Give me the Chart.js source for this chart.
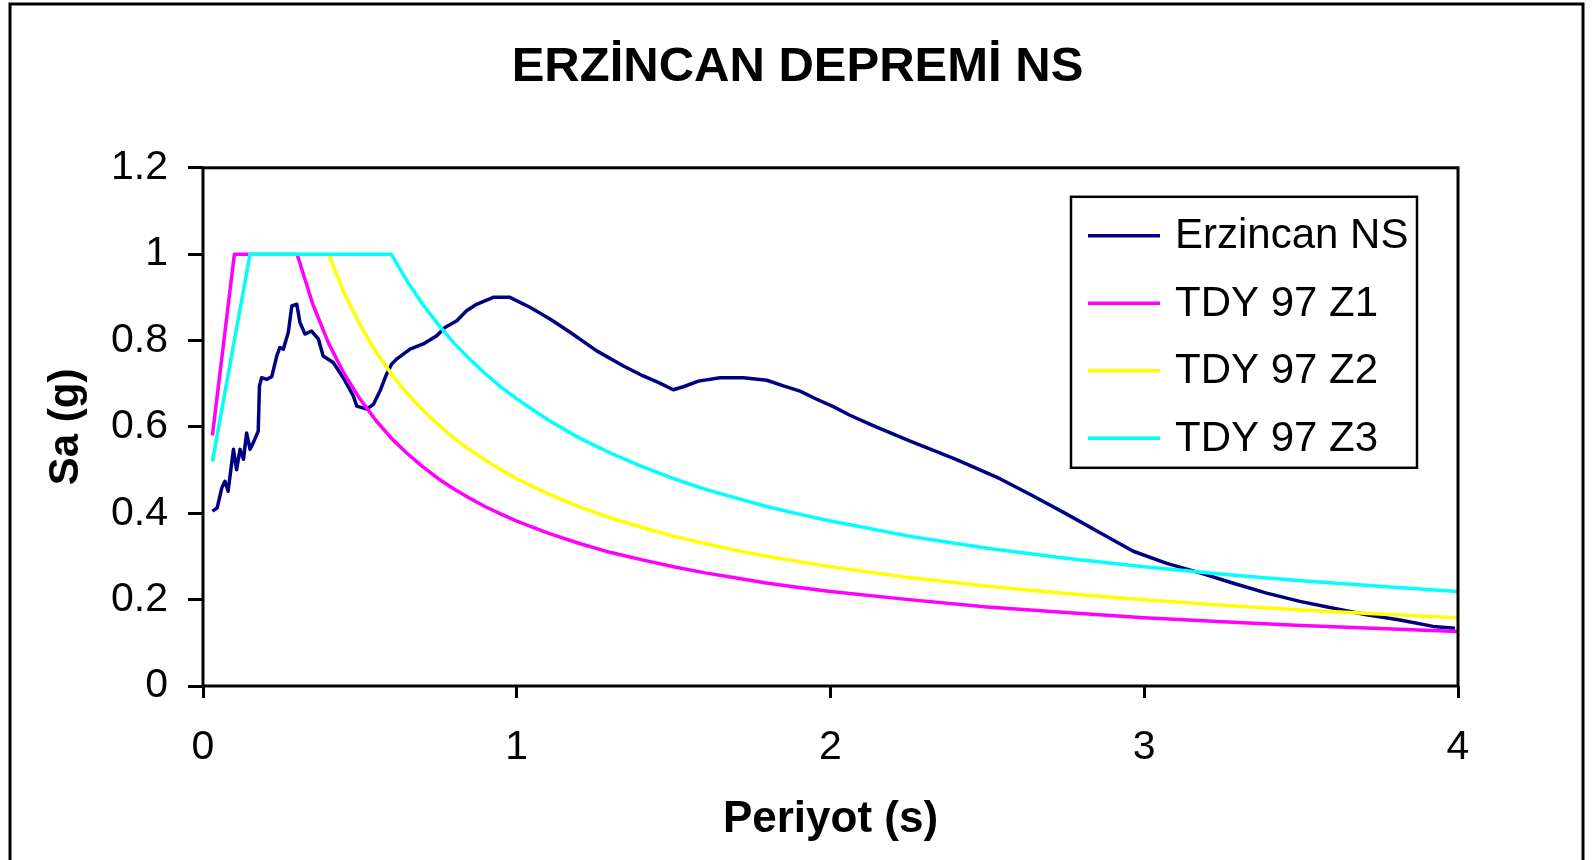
<!DOCTYPE html>
<html>
<head>
<meta charset="utf-8">
<title>Erzincan Depremi NS</title>
<script src="https://cdn.jsdelivr.net/npm/chart.js@4.4.1/dist/chart.umd.min.js"></script>
<style>
    html, body { margin: 0; padding: 0; background: #fff; }
    canvas { display: block; }
</style>
</head>
<body>
<canvas id="chart" width="1595" height="860"></canvas>
<script>
const titleText = "ERZİNCAN DEPREMİ NS";
const xTitle = "Periyot (s)";
const yTitle = "Sa (g)";
const xTickLabels = ["0", "1", "2", "3", "4"];
const yTickLabels = ["0", "0.2", "0.4", "0.6", "0.8", "1", "1.2"];

const seriesNames = ["Erzincan NS", "TDY 97 Z1", "TDY 97 Z2", "TDY 97 Z3"];
const seriesColors = ["#000080", "#FF00FF", "#FFFF00", "#00FFFF"];

// Erzincan NS record (period s, Sa g)
const erzPeriod = [0.03, 0.045, 0.06, 0.07, 0.08, 0.097, 0.107, 0.118, 0.129, 0.139,
    0.15, 0.16, 0.176, 0.18, 0.187, 0.203, 0.219, 0.235, 0.245, 0.256,
    0.272, 0.283, 0.299, 0.309, 0.325, 0.346, 0.368, 0.383, 0.415, 0.447,
    0.479, 0.49, 0.522, 0.543, 0.564, 0.585, 0.601, 0.617, 0.66, 0.702,
    0.745, 0.771, 0.809, 0.84, 0.872, 0.925, 0.978, 1.042, 1.106, 1.17,
    1.255, 1.34, 1.403, 1.451, 1.499, 1.531, 1.579, 1.648, 1.722, 1.797,
    1.85, 1.903, 1.956, 2.009, 2.062, 2.136, 2.25, 2.4, 2.54, 2.646,
    2.753, 2.859, 2.965, 3.072, 3.178, 3.284, 3.39, 3.496, 3.603, 3.709,
    3.815, 3.921, 3.99];
const erzSa = [0.405, 0.412, 0.459, 0.474, 0.451, 0.548, 0.501, 0.548, 0.525, 0.586,
    0.548, 0.563, 0.59, 0.695, 0.714, 0.71, 0.716, 0.764, 0.784, 0.78,
    0.819, 0.88, 0.884, 0.842, 0.815, 0.822, 0.803, 0.764, 0.749, 0.714,
    0.672, 0.648, 0.641, 0.652, 0.683, 0.722, 0.745, 0.757, 0.78, 0.792,
    0.811, 0.83, 0.846, 0.869, 0.884, 0.9, 0.9, 0.877, 0.85, 0.819,
    0.776, 0.741, 0.718, 0.703, 0.686, 0.693, 0.706, 0.714, 0.714, 0.708,
    0.695, 0.683, 0.664, 0.647, 0.627, 0.603, 0.568, 0.525, 0.48, 0.44,
    0.398, 0.355, 0.312, 0.284, 0.262, 0.238, 0.215, 0.196, 0.18, 0.165,
    0.153, 0.138, 0.134];

// TDY 97 design spectra, read at the same periods
const tdyPeriod = [0.03, 0.10, 0.15, 0.20, 0.25, 0.30, 0.35, 0.40, 0.45, 0.50,
    0.55, 0.60, 0.65, 0.70, 0.75, 0.80, 0.85, 0.90, 0.95, 1.00,
    1.10, 1.20, 1.30, 1.40, 1.50, 1.60, 1.70, 1.80, 1.90, 2.00,
    2.25, 2.50, 2.75, 3.00, 3.25, 3.50, 3.75, 4.00];
const z1Sa = [0.58, 1.00, 1.00, 1.00, 1.00, 1.00, 0.884, 0.794, 0.723, 0.665,
    0.616, 0.574, 0.539, 0.508, 0.480, 0.456, 0.435, 0.415, 0.398, 0.382,
    0.354, 0.330, 0.309, 0.292, 0.276, 0.262, 0.250, 0.238, 0.228, 0.219,
    0.200, 0.183, 0.170, 0.158, 0.149, 0.140, 0.133, 0.126];
const z2Sa = [0.52, 0.80, 1.00, 1.00, 1.00, 1.00, 1.00, 1.00, 0.910, 0.837,
    0.775, 0.723, 0.678, 0.639, 0.605, 0.574, 0.547, 0.523, 0.501, 0.480,
    0.445, 0.415, 0.389, 0.367, 0.347, 0.330, 0.314, 0.300, 0.288, 0.276,
    0.251, 0.231, 0.214, 0.200, 0.187, 0.176, 0.167, 0.158];
const z3Sa = [0.52, 0.80, 1.00, 1.00, 1.00, 1.00, 1.00, 1.00, 1.00, 1.00,
    1.00, 1.00, 0.938, 0.884, 0.837, 0.794, 0.757, 0.723, 0.692, 0.665,
    0.616, 0.574, 0.539, 0.508, 0.480, 0.456, 0.435, 0.415, 0.398, 0.382,
    0.347, 0.319, 0.296, 0.276, 0.259, 0.244, 0.231, 0.219];

const FONT = "'Liberation Sans', Arial, Helvetica, sans-serif";

function toPoints(xs, ys) {
    return xs.map((x, i) => ({ x: x, y: ys[i] }));
}

const seriesData = [
    toPoints(erzPeriod, erzSa),
    toPoints(tdyPeriod, z1Sa),
    toPoints(tdyPeriod, z2Sa),
    toPoints(tdyPeriod, z3Sa)
];

// frame round the plot, outer border and the boxed legend inside the plot
const framePlugin = {
    id: "frame",
    beforeDraw(chart) {
        const ctx = chart.ctx;
        ctx.save();
        ctx.fillStyle = "#fff";
        ctx.fillRect(0, 0, chart.width, chart.height);
        ctx.restore();
    },
    afterDatasetsDraw(chart) {
        const { ctx, chartArea: a } = chart;
        ctx.save();
        ctx.strokeStyle = "#000";
        ctx.lineWidth = 3;
        ctx.strokeRect(a.left, a.top, a.right - a.left, a.bottom - a.top);
        ctx.restore();
    },
    afterDraw(chart) {
        const { ctx, chartArea: a } = chart;
        ctx.save();
        ctx.strokeStyle = "#000";
        ctx.lineWidth = 3;
        ctx.strokeRect(10, 4, 1573, 1000);

        // legend
        const bx = a.left + 868, by = a.top + 29, bw = 346, bh = 271;
        ctx.fillStyle = "#fff";
        ctx.fillRect(bx, by, bw, bh);
        ctx.lineWidth = 2.5;
        ctx.strokeRect(bx, by, bw, bh);
        ctx.font = "42px " + FONT;
        ctx.textBaseline = "middle";
        ctx.textAlign = "left";
        chart.data.datasets.forEach((ds, i) => {
            const y = by + 39 + i * 67.5;
            ctx.strokeStyle = ds.borderColor;
            ctx.lineWidth = 3.5;
            ctx.beginPath();
            ctx.moveTo(bx + 17, y);
            ctx.lineTo(bx + 89, y);
            ctx.stroke();
            ctx.fillStyle = "#000";
            ctx.fillText(ds.label, bx + 104, y + 1);
        });
        ctx.restore();
    }
};

const ctx = document.getElementById("chart").getContext("2d");

new Chart(ctx, {
    type: "line",
    data: {
        datasets: seriesNames.map((name, i) => ({
            label: name,
            data: seriesData[i],
            borderColor: seriesColors[i],
            backgroundColor: seriesColors[i],
            borderWidth: 3.5,
            borderJoinStyle: "round",
            pointRadius: 0,
            tension: 0,
            fill: false,
            order: seriesNames.length - i
        }))
    },
    options: {
        animation: false,
        responsive: false,
        devicePixelRatio: 1,
        layout: { padding: { top: 10, left: 20, right: 20, bottom: 0 } },
        plugins: {
            legend: { display: false },
            tooltip: { enabled: false },
            title: {
                display: true,
                text: titleText,
                color: "#000",
                font: { family: FONT, size: 49, weight: "bold" },
                padding: { top: 28, bottom: 71 }
            }
        },
        scales: {
            x: {
                type: "linear",
                min: 0,
                max: 4,
                afterFit: s => { s.height = 174; },
                border: { display: false },
                grid: {
                    drawOnChartArea: false,
                    drawTicks: true,
                    tickLength: 12,
                    tickWidth: 3,
                    tickColor: "#000"
                },
                ticks: {
                    stepSize: 1,
                    padding: 25,
                    color: "#000",
                    font: { family: FONT, size: 41 },
                    maxRotation: 0,
                    callback: (v, i) => xTickLabels[i]
                },
                title: {
                    display: true,
                    text: xTitle,
                    color: "#000",
                    font: { family: FONT, size: 44, weight: "bold" },
                    padding: { top: 0, bottom: 14 }
                }
            },
            y: {
                type: "linear",
                min: 0,
                max: 1.2,
                afterFit: s => { s.width = 183; },
                border: { display: false },
                grid: {
                    drawOnChartArea: false,
                    drawTicks: true,
                    tickLength: 15,
                    tickWidth: 3,
                    tickColor: "#000"
                },
                ticks: {
                    stepSize: 0.2,
                    padding: 20,
                    color: "#000",
                    font: { family: FONT, size: 41 },
                    callback: (v, i) => yTickLabels[i]
                },
                title: {
                    display: true,
                    text: yTitle,
                    color: "#000",
                    font: { family: FONT, size: 42, weight: "bold" },
                    padding: { top: 21, bottom: 0 }
                }
            },
            // empty right-hand space so the title centres on the whole frame
            yRight: {
                type: "linear",
                position: "right",
                display: true,
                afterFit: s => { s.width = 117; },
                border: { display: false },
                grid: { display: false },
                ticks: { display: false }
            }
        }
    },
    plugins: [framePlugin]
});
</script>
</body>
</html>
